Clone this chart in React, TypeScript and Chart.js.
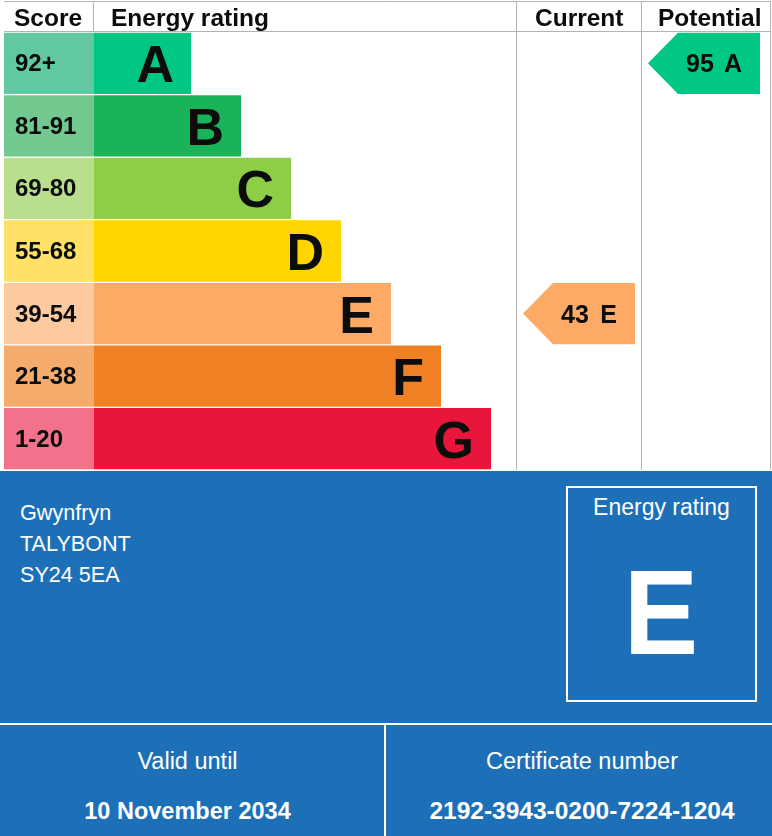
import React, { useEffect, useRef } from "react";
import { Chart, registerables } from "chart.js";

Chart.register(...registerables);

// ---- Data ----
const bands = ["A", "B", "C", "D", "E", "F", "G"];
const scoreRanges = ["92+", "81-91", "69-80", "55-68", "39-54", "21-38", "1-20"];
const bandMinScores = [92, 81, 69, 55, 39, 21, 1];
// bar lengths (end of each band bar, in layout units where 1 unit = 1px of chart width)
const bandBarEnds = [187, 237, 287, 337, 387, 437, 487];
const scoreColumnEnd = 90;
const currentScore = 43;
const potentialScore = 95;

const bandColors = ["#00c781", "#19b459", "#8dce46", "#ffd500", "#fcaa65", "#ef8023", "#e9153b"];
const scoreCellColors = ["#62c8a2", "#72c98f", "#b9df8c", "#ffe168", "#fdcaa0", "#f5ab6c", "#f1728a"];

const address = ["Gwynfryn", "TALYBONT", "SY24 5EA"];
const currentBandLabel = "E";
const validUntil = "10 November 2034";
const certificateNumber = "2192-3943-0200-7224-1204";

// ---- Layout (scale units) ----
const X_MAX = 767;
const currentColumn = [512, 637];
const potentialColumn = [637, 767];

const FONT = "'Liberation Sans', Arial, Helvetica, sans-serif";
const GRID = "#b1b4b6";
const INK = "#0b0c0c";

function bandIndexForScore(score: number): number {
  for (let i = 0; i < bandMinScores.length; i++) {
    if (score >= bandMinScores[i]) return i;
  }
  return bandMinScores.length - 1;
}

const epcPlugin = {
  id: "epcOverlay",
  afterDatasetsDraw(chart: any) {
    const { ctx, chartArea, scales } = chart;
    const xs = scales.x;
    const ys = scales.y;
    const px = (v: number) => xs.getPixelForValue(v);
    const bars = chart.getDatasetMeta(1).data;
    const top = 1.5;
    const headTop = chartArea.top;
    const bottom = chartArea.bottom;

    ctx.save();
    // grid lines
    ctx.strokeStyle = GRID;
    ctx.lineWidth = 1;
    ctx.beginPath();
    ctx.moveTo(chartArea.left, top);
    ctx.lineTo(chartArea.right, top);
    ctx.moveTo(chartArea.left, headTop - 0.5);
    ctx.lineTo(chartArea.right, headTop - 0.5);
    const xScoreEnd = Math.round(px(scoreColumnEnd)) - 0.5;
    ctx.moveTo(xScoreEnd, top);
    ctx.lineTo(xScoreEnd, headTop);
    for (const xv of [currentColumn[0], potentialColumn[0]]) {
      const xx = Math.round(px(xv)) + 0.5;
      ctx.moveTo(xx, top);
      ctx.lineTo(xx, bottom);
    }
    const xr = Math.round(px(X_MAX)) - 0.5;
    ctx.moveTo(xr, top);
    ctx.lineTo(xr, bottom);
    ctx.stroke();

    // header texts
    ctx.fillStyle = INK;
    ctx.font = `bold 24.5px ${FONT}`;
    ctx.textBaseline = "alphabetic";
    ctx.textAlign = "left";
    ctx.fillText("Score", px(0) + 10, 26);
    ctx.fillText("Energy rating", px(scoreColumnEnd) + 17, 26);
    ctx.fillText("Current", px(currentColumn[0]) + 19, 26);
    ctx.fillText("Potential", px(potentialColumn[0]) + 17, 26);

    // score labels and band letters
    bars.forEach((bar: any, i: number) => {
      ctx.fillStyle = INK;
      ctx.textAlign = "left";
      ctx.font = `bold 24px ${FONT}`;
      ctx.fillText(scoreRanges[i], px(0) + 11, bar.y + 8);
      ctx.textAlign = "right";
      ctx.font = `bold 52px ${FONT}`;
      ctx.fillText(bands[i], bar.x - 17, bar.y + 19);
    });

    // arrows
    const drawArrow = (score: number, col: number[]) => {
      const idx = bandIndexForScore(score);
      const bar = bars[idx];
      const yc = ys.getPixelForValue(idx);
      const h = bar.height;
      const tip = px(col[0]) + 7;
      const bodyL = tip + 30;
      const right = tip + 112;
      ctx.fillStyle = bandColors[idx];
      ctx.beginPath();
      ctx.moveTo(tip, yc);
      ctx.lineTo(bodyL, yc - h / 2);
      ctx.lineTo(right, yc - h / 2);
      ctx.lineTo(right, yc + h / 2);
      ctx.lineTo(bodyL, yc + h / 2);
      ctx.closePath();
      ctx.fill();
      ctx.fillStyle = INK;
      ctx.font = `bold 25px ${FONT}`;
      ctx.textAlign = "left";
      ctx.fillText(String(score), tip + 38, yc + 9);
      ctx.textAlign = "right";
      ctx.fillText(bands[idx], tip + 94, yc + 9);
    };
    drawArrow(currentScore, currentColumn);
    drawArrow(potentialScore, potentialColumn);
    ctx.restore();
  },
};

export default function App() {
  const ref = useRef<HTMLCanvasElement>(null);

  useEffect(() => {
    document.body.style.margin = "0";
    const canvas = ref.current;
    if (!canvas) return;
    const chart = new Chart(canvas, {
      type: "bar",
      data: {
        labels: bands,
        datasets: [
          {
            label: "Score",
            data: bands.map(() => [0, scoreColumnEnd]) as any,
            backgroundColor: scoreCellColors,
            borderWidth: 0,
            grouped: false,
            categoryPercentage: 1,
            barPercentage: 0.98,
          } as any,
          {
            label: "Energy rating",
            data: bandBarEnds.map((e) => [scoreColumnEnd, e]) as any,
            backgroundColor: bandColors,
            borderWidth: 0,
            grouped: false,
            categoryPercentage: 1,
            barPercentage: 0.98,
          } as any,
        ],
      },
      options: {
        indexAxis: "y",
        animation: false,
        responsive: false,
        devicePixelRatio: 1,
        events: [],
        layout: { padding: { left: 4, right: 1, top: 32, bottom: 1 } },
        scales: {
          x: { type: "linear", min: 0, max: X_MAX, display: false },
          y: { type: "category", display: false, offset: true },
        },
        plugins: { legend: { display: false }, tooltip: { enabled: false }, title: { display: false } },
      } as any,
      plugins: [epcPlugin],
    });
    return () => chart.destroy();
  }, []);

  const white = "#ffffff";
  return (
    <div style={{ position: "absolute", left: 0, top: 0, width: 772, height: 836, background: "#fff", fontFamily: FONT, overflow: "hidden" }}>
      <canvas ref={ref} width={772} height={471} style={{ position: "absolute", left: 0, top: 0, display: "block" }} />
      <div style={{ position: "absolute", left: 0, top: 471, width: 772, height: 365, background: "#1d70b8", color: white }}>
        <div style={{ position: "absolute", left: 20, top: 26, fontSize: 21.6, lineHeight: "31px" }}>
          {address.map((l) => (
            <div key={l}>{l}</div>
          ))}
        </div>
        <div style={{ position: "absolute", left: 566, top: 15, width: 191, height: 216, boxSizing: "border-box", border: `2px solid ${white}` }}>
          <div style={{ position: "absolute", left: 0, top: 8, width: "100%", textAlign: "center", fontSize: 23, lineHeight: "23px" }}>Energy rating</div>
          <div style={{ position: "absolute", left: 0, top: 64, width: "100%", textAlign: "center", fontSize: 120, lineHeight: "120px", fontWeight: "bold" }}>
            <span style={{ display: "inline-block", transform: "scaleX(0.93)" }}>{currentBandLabel}</span>
          </div>
        </div>
        <div style={{ position: "absolute", left: 0, top: 252, width: 772, height: 2, background: white }} />
        <div style={{ position: "absolute", left: 384, top: 254, width: 2, height: 111, background: white }} />
        <div style={{ position: "absolute", left: 0, top: 278, width: 375, textAlign: "center", fontSize: 23.5, lineHeight: "24px" }}>Valid until</div>
        <div style={{ position: "absolute", left: 0, top: 328, width: 375, textAlign: "center", fontSize: 23.5, lineHeight: "24px", fontWeight: "bold" }}>{validUntil}</div>
        <div style={{ position: "absolute", left: 392, top: 278, width: 380, textAlign: "center", fontSize: 23.5, lineHeight: "24px" }}>Certificate number</div>
        <div style={{ position: "absolute", left: 392, top: 328, width: 380, textAlign: "center", fontSize: 24.5, lineHeight: "24px", fontWeight: "bold" }}>{certificateNumber}</div>
      </div>
    </div>
  );
}
